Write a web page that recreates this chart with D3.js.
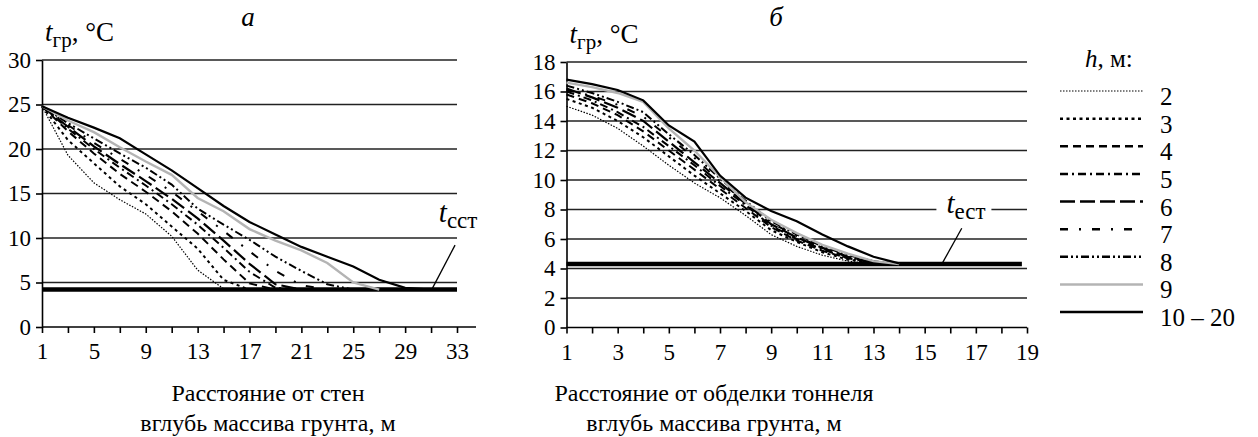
<!DOCTYPE html>
<html>
<head>
<meta charset="utf-8">
<script src="https://cdn.jsdelivr.net/npm/d3@7"></script>
<style>
  body { margin: 0; background: #fff; }
</style>
</head>
<body>
<svg id="chart" width="1258" height="437"></svg>
<script>
// --- data ---
// chart "а": distance from walls, odd metres 1..33
var leftX = [1, 3, 5, 7, 9, 11, 13, 15, 17, 19, 21, 23, 25, 27, 29, 31, 33];
var leftTicks = [1, 5, 9, 13, 17, 21, 25, 29, 33];
var leftYTicks = [0, 5, 10, 15, 20, 25, 30];
var leftH2  = [24.8, 19.3, 16.2, 14.3, 12.7, 10.2, 6.4, 4.3, 4.2];
var leftH3  = [24.8, 21.0, 18.4, 15.8, 13.8, 11.3, 8.8, 5.3, 4.2];
var leftH4  = [24.8, 22.0, 19.5, 17.2, 15.2, 13.0, 10.5, 7.6, 4.9, 4.2];
var leftH5  = [24.8, 22.3, 20.0, 17.9, 15.9, 13.8, 11.5, 8.9, 6.2, 4.4, 4.2];
var leftH6  = [24.8, 22.5, 20.3, 18.3, 16.4, 14.4, 12.2, 9.7, 7.1, 4.8, 4.2];
var leftH7  = [24.8, 22.7, 20.7, 18.9, 17.1, 15.2, 13.0, 10.8, 8.5, 6.3, 4.7, 4.2];
var leftH8  = [24.8, 22.9, 21.2, 19.5, 17.9, 16.0, 13.3, 11.5, 9.8, 7.9, 6.3, 4.8, 4.2];
var leftH9  = [24.8, 23.2, 21.9, 20.2, 18.6, 17.1, 14.5, 13.0, 11.0, 9.7, 8.6, 7.2, 5.0, 4.2];
var leftH10 = [24.8, 23.5, 22.4, 21.2, 19.4, 17.6, 15.6, 13.6, 11.8, 10.4, 9.0, 7.9, 6.8, 5.3, 4.4, 4.2];
var leftTNat = 4.2;

// chart "б": distance from tunnel lining, metres 1..19
var rightX = [1, 2, 3, 4, 5, 6, 7, 8, 9, 10, 11, 12, 13, 14];
var rightTicks = [1, 3, 5, 7, 9, 11, 13, 15, 17, 19];
var rightYTicks = [0, 2, 4, 6, 8, 10, 12, 14, 16, 18];
var rightH2  = [15.0, 14.4, 13.5, 12.3, 11.0, 9.8, 8.8, 7.6, 6.3, 5.5, 4.9, 4.5, 4.3, 4.3];
var rightH3  = [15.5, 14.9, 14.0, 12.9, 11.6, 10.3, 9.1, 7.9, 6.6, 5.8, 5.1, 4.6, 4.4, 4.3];
var rightH4  = [15.8, 15.2, 14.4, 13.3, 12.0, 10.7, 9.4, 8.1, 6.8, 5.9, 5.2, 4.7, 4.4, 4.3];
var rightH5  = [16.0, 15.4, 14.6, 13.6, 12.3, 11.0, 9.6, 8.3, 6.9, 6.0, 5.3, 4.7, 4.4, 4.3];
var rightH6  = [16.2, 15.6, 14.9, 14.0, 12.6, 11.2, 9.8, 8.4, 7.0, 6.1, 5.4, 4.8, 4.4, 4.3];
var rightH7  = [16.1, 15.7, 15.1, 14.3, 12.9, 11.5, 9.9, 8.5, 7.1, 6.2, 5.4, 4.8, 4.5, 4.3];
var rightH8  = [16.4, 15.9, 15.3, 14.6, 13.1, 11.7, 10.1, 8.6, 7.2, 6.3, 5.5, 4.9, 4.5, 4.3];
var rightH9  = [16.6, 16.3, 15.9, 15.3, 13.5, 12.0, 10.2, 8.5, 7.3, 6.4, 5.6, 5.0, 4.5, 4.3];
var rightH10 = [16.8, 16.5, 16.1, 15.4, 13.7, 12.6, 10.3, 8.8, 7.9, 7.2, 6.3, 5.5, 4.8, 4.35];
var rightTNat = 4.3;

var hLabels = ["2", "3", "4", "5", "6", "7", "8", "9", "10 – 20"];

// line style per h (same order as hLabels)
var styles = [
    {color: "#000", width: 1.2, dash: "1.5,1.5"},
    {color: "#000", width: 2, dash: "3,3.5"},
    {color: "#000", width: 2, dash: "8,5"},
    {color: "#000", width: 2, dash: "8,4,2,4"},
    {color: "#000", width: 2.2, dash: "15,5"},
    {color: "#000", width: 2, dash: "8,11,2,11"},
    {color: "#000", width: 2, dash: "8,3,2,3,2,3"},
    {color: "#b4b4b4", width: 2.4, dash: null},
    {color: "#000", width: 2.2, dash: null}
];

var leftSeries = [leftH2, leftH3, leftH4, leftH5, leftH6, leftH7, leftH8, leftH9, leftH10];
var rightSeries = [rightH2, rightH3, rightH4, rightH5, rightH6, rightH7, rightH8, rightH9, rightH10];

var FONT = "Liberation Serif";
var svg = d3.select("#chart");

function drawPanel(opt) {
    var x = d3.scaleLinear().domain(opt.xDomain).range(opt.xRange);
    var y = d3.scaleLinear().domain(opt.yDomain).range(opt.yRange);
    var g = svg.append("g");

    // horizontal grid lines
    g.selectAll("line.grid")
        .data(opt.yTicks.filter(function(d) { return d > 0; }))
        .enter().append("line")
        .attr("class", "grid")
        .attr("x1", x(opt.xDomain[0])).attr("x2", x(opt.xDomain[1]))
        .attr("y1", function(d) { return y(d); })
        .attr("y2", function(d) { return y(d); })
        .style("stroke", "#222").style("stroke-width", 1.6);

    // y axis
    var yAxis = d3.axisLeft(y).tickValues(opt.yTicks).tickSize(6).tickSizeOuter(0);
    var ya = g.append("g")
        .attr("transform", "translate(" + x(opt.xDomain[0]) + ",0)")
        .call(yAxis);
    ya.selectAll("text").attr("fill", "#000").attr("dx", "-2px").attr("font-size", 23);

    // x axis
    var xAxis = d3.axisBottom(x).tickValues(opt.xMinor).tickSize(6).tickSizeOuter(0)
        .tickFormat(function(d) { return opt.xTicks.indexOf(d) >= 0 ? d : ""; });
    var xa = g.append("g")
        .attr("transform", "translate(0," + y(0) + ")")
        .call(xAxis);
    xa.selectAll("text").attr("fill", "#000").attr("dy", "1.0em").attr("font-size", 23);
    xa.select(".domain").attr("d", "M" + x(opt.xDomain[0]) + ",0H" + opt.axisEnd);
    g.selectAll(".domain, .tick line").style("stroke", "#000").style("stroke-width", 1.6);

    // natural ground temperature line
    g.append("line")
        .attr("x1", x(opt.xDomain[0])).attr("x2", x(opt.tEnd))
        .attr("y1", y(opt.tNat)).attr("y2", y(opt.tNat))
        .style("stroke", "#000").style("stroke-width", 4.5);

    // series
    var line = d3.line()
        .x(function(d) { return x(d[0]); })
        .y(function(d) { return y(d[1]); });

    opt.series.forEach(function(vals, i) {
        var pts = vals.map(function(v, k) { return [opt.xs[k], v]; });
        g.append("path")
            .datum(pts)
            .attr("d", line)
            .style("fill", "none")
            .style("stroke", styles[i].color)
            .style("stroke-width", styles[i].width)
            .style("stroke-dasharray", styles[i].dash);
    });

    // y axis title  t_гр, °C
    var yt = g.append("text")
        .attr("x", x(opt.xDomain[0]) + 3).attr("y", opt.yRange[1] - 19)
        .attr("font-size", 27);
    yt.append("tspan").attr("font-style", "italic").text("t");
    yt.append("tspan").attr("dy", 6).attr("font-size", 21).text("гр");
    yt.append("tspan").attr("dy", -6).text(", °C");

    // panel letter
    g.append("text")
        .attr("x", opt.letterX).attr("y", 26)
        .attr("text-anchor", "middle")
        .attr("font-size", 27).attr("font-style", "italic")
        .text(opt.letter);

    // x axis title (two lines)
    g.selectAll("text.xtitle")
        .data(opt.xTitle)
        .enter().append("text")
        .attr("class", "xtitle")
        .attr("x", opt.titleX)
        .attr("y", function(d, i) { return 401 + i * 30; })
        .attr("text-anchor", "middle")
        .attr("font-size", 24)
        .text(function(d) { return d; });

    // t label with leader
    var lx = x(opt.labelAt[0]), ly = y(opt.labelAt[1]);
    if (opt.labelBg) {
        g.append("rect")
            .attr("x", lx - 10).attr("y", ly - 20)
            .attr("width", 55).attr("height", 30)
            .style("fill", "#fff");
    }
    var lt = g.append("text").attr("x", lx).attr("y", ly).attr("font-size", 29);
    lt.append("tspan").attr("font-style", "italic").text("t");
    lt.append("tspan").attr("dy", 6).attr("font-size", 23).text(opt.labelSub);
    g.append("line")
        .attr("x1", x(opt.leader[0])).attr("y1", y(opt.leader[1]))
        .attr("x2", x(opt.leader[2])).attr("y2", y(opt.leader[3]))
        .style("stroke", "#000").style("stroke-width", 1.3);
}

drawPanel({
    xDomain: [1, 33], xRange: [42, 457], yDomain: [0, 30], yRange: [327, 60],
    xs: leftX, xMinor: d3.range(1, 34, 2), xTicks: leftTicks, yTicks: leftYTicks,
    axisEnd: 476, tNat: leftTNat, tEnd: 33, series: leftSeries,
    letter: "а", letterX: 248, titleX: 268,
    xTitle: ["Расстояние от стен", "вглубь массива грунта, м"],
    labelAt: [31.6, 11.8], labelSub: "сст", labelBg: false,
    leader: [32.85, 9.2, 31.05, 4.2]
});

drawPanel({
    xDomain: [1, 19], xRange: [566.5, 1027], yDomain: [0, 18], yRange: [327.5, 62],
    xs: rightX, xMinor: d3.range(1, 20, 1), xTicks: rightTicks, yTicks: rightYTicks,
    axisEnd: 1027, tNat: rightTNat, tEnd: 18.8, series: rightSeries,
    letter: "б", letterX: 776, titleX: 714,
    xTitle: ["Расстояние от обделки тоннеля", "вглубь массива грунта, м"],
    labelAt: [15.85, 7.75], labelSub: "ест", labelBg: true,
    leader: [16.45, 6.73, 15.67, 4.3]
});

// legend
var legend = svg.append("g");
var lgTitle = legend.append("text").attr("x", 1085).attr("y", 67).attr("font-size", 25);
lgTitle.append("tspan").attr("font-style", "italic").text("h");
lgTitle.append("tspan").text(", м:");

var rowY = d3.scaleLinear().domain([0, 8]).range([91, 312]);
var rows = legend.selectAll("g.row")
    .data(hLabels)
    .enter().append("g")
    .attr("class", "row")
    .attr("transform", function(d, i) { return "translate(0," + rowY(i) + ")"; });
rows.append("line")
    .attr("x1", 1060).attr("x2", 1143).attr("y1", 0).attr("y2", 0)
    .style("stroke", function(d, i) { return styles[i].color; })
    .style("stroke-width", function(d, i) { return i === 0 ? 1.2 : 2.5; })
    .style("stroke-dasharray", function(d, i) { return styles[i].dash; });
rows.append("text")
    .attr("x", 1160).attr("y", 14)
    .attr("font-size", 25)
    .text(function(d) { return d; });

// serif face on every label
svg.selectAll("text").attr("font-family", FONT);
</script>
</body>
</html>
